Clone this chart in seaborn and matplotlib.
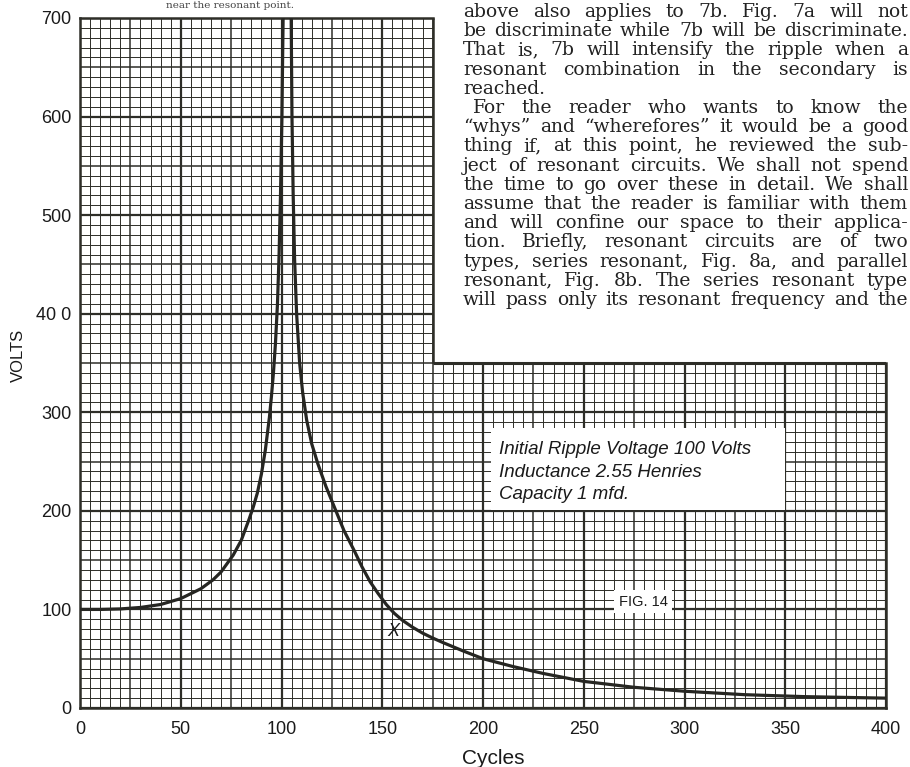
import matplotlib
matplotlib.use("Agg")
import matplotlib.pyplot as plt
from matplotlib.patches import Rectangle
import numpy as np
import pandas as pd
import seaborn as sns

# resonance curve (split at the resonant peak)
left_cycles = [0, 10, 20, 30, 40, 50, 60, 66, 70, 76, 80, 84, 86, 88, 90, 92, 94, 95, 96, 97, 98, 98.8, 99.5, 100.2, 100.8]
left_volts = [100, 100, 100.5, 102, 105, 111, 121, 130, 138, 155, 170, 192, 204, 218, 237, 262, 295, 316, 340, 370, 410, 460, 520, 600, 700]
right_cycles = [104.8, 105.2, 105.8, 106.5, 107.5, 109, 110.5, 112.5, 115, 118, 122, 126, 131, 136, 140, 144, 148, 152, 156, 160,
                165, 170, 175, 180, 190, 200, 215, 230, 250, 275, 300, 330, 360, 400]
right_volts = [700, 600, 520, 455, 400, 350, 320, 292, 268, 248, 225, 205, 180, 160, 143, 128, 116, 105, 96, 89,
               82, 76, 71, 66.5, 58, 50, 42, 35, 27, 21, 17, 13.5, 11.5, 10]

x_ticks = [0, 50, 100, 150, 200, 250, 300, 350, 400]
y_ticks = [0, 100, 200, 300, 400, 500, 600, 700]
y_tick_labels = ["0", "100", "200", "300", "40 0", "500", "600", "700"]

note_lines = ["Initial Ripple Voltage 100 Volts", "Inductance 2.55 Henries", "Capacity 1 mfd."]
fig_label = "FIG. 14"
point_label = "X"

page_lines = [
    "above also applies to 7b.  Fig. 7a will not",
    "be discriminate while 7b will be discriminate.",
    "That is, 7b will intensify the ripple when a",
    "resonant combination in the secondary is",
    "reached.",
    "For the reader who wants to know the",
    "\u201cwhys\u201d and \u201cwherefores\u201d it would be a good",
    "thing if, at this point, he reviewed the sub-",
    "ject of resonant circuits.  We shall not spend",
    "the time to go over these in detail.  We shall",
    "assume that the reader is familiar with them",
    "and will confine our space to their applica-",
    "tion.  Briefly, resonant circuits are of two",
    "types, series resonant, Fig. 8a, and parallel",
    "resonant, Fig. 8b.  The series resonant type",
    "will pass only its resonant frequency and the",
]

df = pd.concat([
    pd.DataFrame({"cycles": left_cycles, "volts": left_volts, "branch": "below"}),
    pd.DataFrame({"cycles": right_cycles, "volts": right_volts, "branch": "above"}),
])

sns.set_style("white")
plt.rcParams["font.family"] = ["Liberation Sans", "DejaVu Sans"]

W, H = 910, 767
ink = "#2e2e28"
fig = plt.figure(figsize=(W / 100, H / 100), dpi=100)
ax = fig.add_axes([80 / W, 59 / H, 806 / W, 690 / H])
ax.set_xlim(0, 400)
ax.set_ylim(0, 700)

# graph paper: fine 5 cycles / 10 volts, heavier every 25/50, heaviest every 50/100
gx = np.arange(0, 401, 5)
gy = np.arange(0, 701, 10)
ax.vlines(gx, 0, 700, colors=ink,
          linewidths=[1.6 if v % 50 == 0 else 1.1 if v % 25 == 0 else 0.7 for v in gx], zorder=1)
ax.hlines(gy, 0, 400, colors=ink,
          linewidths=[1.6 if v % 100 == 0 else 1.1 if v % 50 == 0 else 0.7 for v in gy], zorder=1)

# page text cuts into the upper right of the graph
ax.add_patch(Rectangle((175, 350), 240, 400, facecolor="white", edgecolor="none", zorder=2, clip_on=False))
ax.hlines(350, 175, 400, colors=ink, linewidth=2.2, zorder=3)
ax.vlines(175, 350, 700, colors=ink, linewidth=1.8, zorder=3)

sns.lineplot(data=df, x="cycles", y="volts", units="branch", estimator=None, sort=False,
             color="#262622", linewidth=2.3, ax=ax, zorder=5, legend=False)

for s in ax.spines.values():
    s.set_color(ink)
    s.set_linewidth(1.8)
    s.set_zorder(4)
ax.spines["top"].set_bounds(0, 175)
ax.spines["right"].set_bounds(0, 350)

ax.set_xticks(x_ticks)
ax.set_xticklabels([str(v) for v in x_ticks])
ax.set_yticks(y_ticks)
ax.set_yticklabels(y_tick_labels)
ax.tick_params(axis="x", length=0, pad=9, labelsize=13, colors="#1a1a1a")
ax.tick_params(axis="y", length=0, pad=6, labelsize=13, colors="#1a1a1a")
ax.set_xlabel("")
ax.set_ylabel("")

fig.text(493 / W, 1 - 758 / H, "Cycles", ha="center", va="center", fontsize=15, color="#1a1a1a")
fig.text(18 / W, 1 - 355 / H, "VOLTS", ha="center", va="center", rotation=90, fontsize=12, color="#1a1a1a")

# note box
ax.add_patch(Rectangle((204, 201), 146, 83, facecolor="white", edgecolor="none", zorder=4))
for i, s in enumerate(note_lines):
    ax.text(208, 262 - i * 22.8, s, ha="left", va="center", fontsize=13.5, style="italic",
            color="#1a1a1a", zorder=6)

ax.add_patch(Rectangle((265, 96.5), 29, 23, facecolor="white", edgecolor="none", zorder=4))
ax.text(279.5, 108, fig_label, ha="center", va="center", fontsize=10.5, color="#1a1a1a", zorder=6)
ax.text(155.5, 78, point_label, ha="center", va="center", fontsize=13, style="italic", color="#1a1a1a", zorder=6)

# the magazine column, justified
fig.text(230 / W, 1 - 5 / H, "near the resonant point.", ha="center", va="center",
         fontsize=7.5, family="DejaVu Serif", color="#444444")
fig.canvas.draw()
r = fig.canvas.get_renderer()
x0, x1 = 463, 908
for i, line in enumerate(page_lines):
    y = 1 - (12 + i * 19.2) / H
    start = x0 + (10 if line.startswith("For the") else 0)
    words = line.split()
    ts = [fig.text(0, y, w, ha="left", va="center", fontsize=13.5, family="DejaVu Serif", color="#222222")
          for w in words]
    widths = [t.get_window_extent(r).width for t in ts]
    if line == "reached." or len(ts) == 1:
        gap = 5
    else:
        gap = max((x1 - start - sum(widths)) / (len(ts) - 1), 3)
    x = start
    for t, w in zip(ts, widths):
        t.set_x(x / W)
        x += w + gap

fig.savefig("out.png", dpi=100, facecolor="white")
